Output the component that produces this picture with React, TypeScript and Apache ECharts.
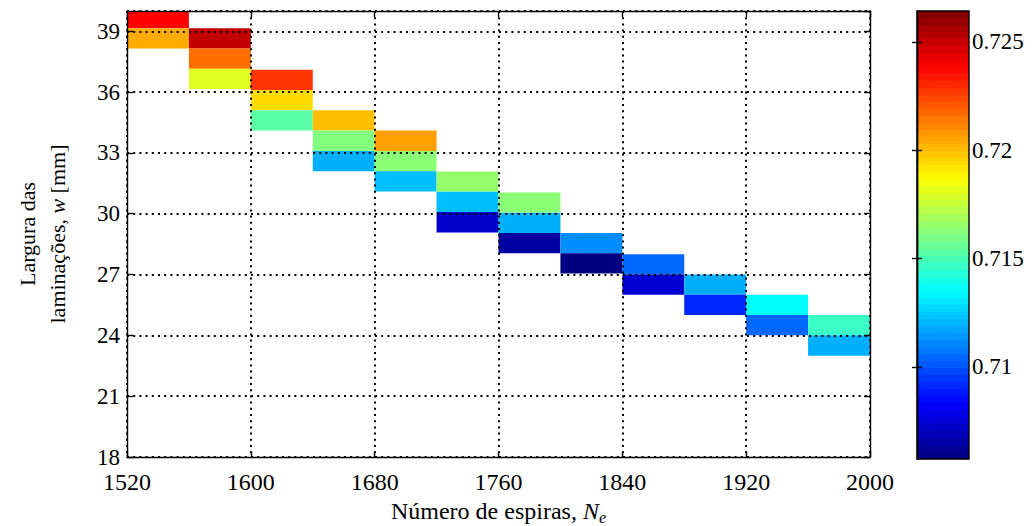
import React, { useEffect, useRef } from "react";
import * as echarts from "echarts";

// Número de espiras (cell centres), largura w (cell centres), and colour values
const nEspiras = [
  1540, 1540,
  1580, 1580, 1580,
  1620, 1620, 1620,
  1660, 1660, 1660,
  1700, 1700, 1700,
  1740, 1740, 1740,
  1780, 1780, 1780,
  1820, 1820,
  1860, 1860,
  1900, 1900,
  1940, 1940,
  1980, 1980,
];
const larguraW = [
  39.65, 38.65,
  38.65, 37.65, 36.65,
  36.6, 35.6, 34.6,
  34.6, 33.6, 32.6,
  33.6, 32.6, 31.6,
  31.58, 30.58, 29.58,
  30.55, 29.55, 28.55,
  28.55, 27.55,
  27.5, 26.5,
  26.5, 25.5,
  25.5, 24.5,
  24.5, 23.5,
];
const valores = [
  0.7238, 0.7204,
  0.7251, 0.7216, 0.718,
  0.7228, 0.7194, 0.7153,
  0.72, 0.7161, 0.7119,
  0.7206, 0.7163, 0.7122,
  0.7165, 0.7122, 0.7073,
  0.7163, 0.7119, 0.7064,
  0.7112, 0.7058,
  0.7104, 0.7074,
  0.7119, 0.7091,
  0.7135, 0.7104,
  0.7147, 0.7119,
];
const colorMin = 0.70574;
const colorMax = 0.72643;
const colorbarTicks = [0.71, 0.715, 0.72, 0.725];

const X_MIN = 1520;
const X_MAX = 2000;
const X_STEP = 80;
const Y_MIN = 18;
const Y_MAX = 40;
const Y_STEP = 3;
const CELL_W = 40;
const CELL_H = 1;

const JET = ["#000080", "#0000ff", "#0080ff", "#00ffff", "#80ff80", "#ffff00", "#ff8000", "#ff0000", "#800000"];

function jetColor(t: number): string {
  const r = Math.min(1, Math.max(0, Math.min(4 * t - 1.5, -4 * t + 4.5)));
  const g = Math.min(1, Math.max(0, Math.min(4 * t - 0.5, -4 * t + 3.5)));
  const b = Math.min(1, Math.max(0, Math.min(4 * t + 0.5, -4 * t + 2.5)));
  return `rgb(${Math.round(r * 255)},${Math.round(g * 255)},${Math.round(b * 255)})`;
}

const FONT = "'Liberation Serif', 'DejaVu Serif', serif";
const FS = 23;
const FS_X = 24;

export default function App() {
  const ref = useRef<HTMLDivElement>(null);
  useEffect(() => {
    if (!ref.current) return;
    const chart = echarts.init(ref.current, undefined, { renderer: "svg" });
    const data = nEspiras.map((x, i) => [x, larguraW[i], valores[i]]);

    const stops: any[] = [];
    const N = 64;
    for (let i = 0; i < N; i++) {
      const c = jetColor((i + 0.5) / N);
      stops.push({ offset: i / N, color: c });
      stops.push({ offset: (i + 1) / N, color: c });
    }

    const labelStyle = { fontFamily: FONT, fontSize: FS, color: "#000" };
    const axisLine = { show: true, lineStyle: { color: "#000", width: 1.4 } };
    const tickIn = { show: true, inside: true, length: 6, lineStyle: { color: "#000", width: 1.4 } };
    const grid = { show: true, lineStyle: { color: "#000", width: 2, type: [2, 4.2] as any } };
    const plain = (v: number) => String(v);

    chart.setOption({
      animation: false,
      backgroundColor: "#fff",
      textStyle: { fontFamily: FONT, color: "#000" },
      grid: [
        { left: 127, right: 165, top: 11, bottom: 69, containLabel: false, outerBoundsMode: "none" },
        { left: 917, width: 52, top: 11, height: 448, containLabel: false, outerBoundsMode: "none" },
      ],
      visualMap: {
        type: "continuous",
        show: false,
        min: colorMin,
        max: colorMax,
        dimension: 2,
        seriesIndex: 0,
        inRange: { color: JET },
      },
      xAxis: [
        {
          gridIndex: 0,
          type: "value",
          min: X_MIN,
          max: X_MAX,
          interval: X_STEP,
          position: "bottom",
          z: 5,
          axisLine,
          axisTick: tickIn,
          axisLabel: { ...labelStyle, fontSize: FS_X, margin: 13, formatter: plain },
          splitLine: grid,
          name: "{a|Número de espiras, }{i|N}{s|e}",
          nameLocation: "middle",
          nameGap: 39,
          nameTextStyle: {
            ...labelStyle,
            fontSize: FS_X,
            rich: {
              a: { fontFamily: FONT, fontSize: FS_X, color: "#000" },
              i: { fontFamily: FONT, fontSize: FS_X, fontStyle: "italic", color: "#000" },
              s: { fontFamily: FONT, fontSize: 16, fontStyle: "italic", color: "#000", padding: [13, 0, 0, 0] },
            },
          },
        },
        {
          gridIndex: 0,
          type: "value",
          min: X_MIN,
          max: X_MAX,
          interval: X_STEP,
          position: "top",
          z: 5,
          axisLine,
          axisTick: tickIn,
          axisLabel: { show: false },
          splitLine: { show: false },
        },
        {
          gridIndex: 1,
          type: "value",
          min: 0,
          max: 1,
          show: false,
        },
      ],
      yAxis: [
        {
          gridIndex: 0,
          type: "value",
          min: Y_MIN,
          max: Y_MAX,
          interval: Y_STEP,
          position: "left",
          z: 5,
          axisLine,
          axisTick: tickIn,
          axisLabel: { ...labelStyle, margin: 7, showMaxLabel: false, formatter: plain },
          splitLine: grid,
          name: "{a|Largura das}\n{a|laminações, }{i|w}{a| [mm]}",
          nameLocation: "middle",
          nameRotate: 90,
          nameGap: 55,
          nameTextStyle: {
            ...labelStyle,
            fontSize: 22,
            lineHeight: 30,
            rich: {
              a: { fontFamily: FONT, fontSize: 22, color: "#000", lineHeight: 30 },
              i: { fontFamily: FONT, fontSize: 22, fontStyle: "italic", color: "#000", lineHeight: 30 },
            },
          },
        },
        {
          gridIndex: 0,
          type: "value",
          min: Y_MIN,
          max: Y_MAX,
          interval: Y_STEP,
          position: "right",
          z: 5,
          axisLine,
          axisTick: tickIn,
          axisLabel: { show: false },
          splitLine: { show: false },
        },
        {
          gridIndex: 1,
          type: "value",
          min: colorMin,
          max: colorMax,
          position: "right",
          z: 5,
          axisLine,
          axisTick: { ...tickIn, length: 5, customValues: colorbarTicks },
          axisLabel: { ...labelStyle, margin: 3, customValues: colorbarTicks, formatter: (v: number) => String(+v.toFixed(3)) },
          splitLine: { show: false },
        },
        {
          gridIndex: 1,
          type: "value",
          min: colorMin,
          max: colorMax,
          position: "left",
          z: 5,
          axisLine,
          axisTick: { ...tickIn, length: 5, customValues: colorbarTicks },
          axisLabel: { show: false },
          splitLine: { show: false },
        },
      ],
      series: [
        {
          type: "custom",
          xAxisIndex: 0,
          yAxisIndex: 0,
          data,
          encode: { x: 0, y: 1 },
          renderItem: (params: any, api: any) => {
            const x = api.value(0);
            const y = api.value(1);
            const p0 = api.coord([x - CELL_W / 2, y + CELL_H / 2]);
            const p1 = api.coord([x + CELL_W / 2, y - CELL_H / 2]);
            const cs = params.coordSys;
            const shape = echarts.graphic.clipRectByRect(
              { x: p0[0], y: p0[1], width: p1[0] - p0[0], height: p1[1] - p0[1] },
              { x: cs.x, y: cs.y, width: cs.width, height: cs.height }
            );
            if (!shape) return null;
            return { type: "rect", shape, style: { fill: api.visual("color") } };
          },
        },
        {
          type: "custom",
          xAxisIndex: 2,
          yAxisIndex: 2,
          data: [[colorMin, colorMax]],
          encode: { y: [0, 1] },
          renderItem: (params: any, api: any) => {
            const top = api.coord([0, api.value(1)]);
            const bot = api.coord([1, api.value(0)]);
            return {
              type: "rect",
              shape: { x: top[0], y: top[1], width: bot[0] - top[0], height: bot[1] - top[1] },
              style: {
                fill: new echarts.graphic.LinearGradient(0, 1, 0, 0, stops),
                stroke: "#000",
                lineWidth: 1.4,
              },
            };
          },
        },
      ],
    });
    return () => chart.dispose();
  }, []);
  return <div ref={ref} style={{ position: "absolute", left: 0, top: 0, width: 1035, height: 526 }} />;
}
